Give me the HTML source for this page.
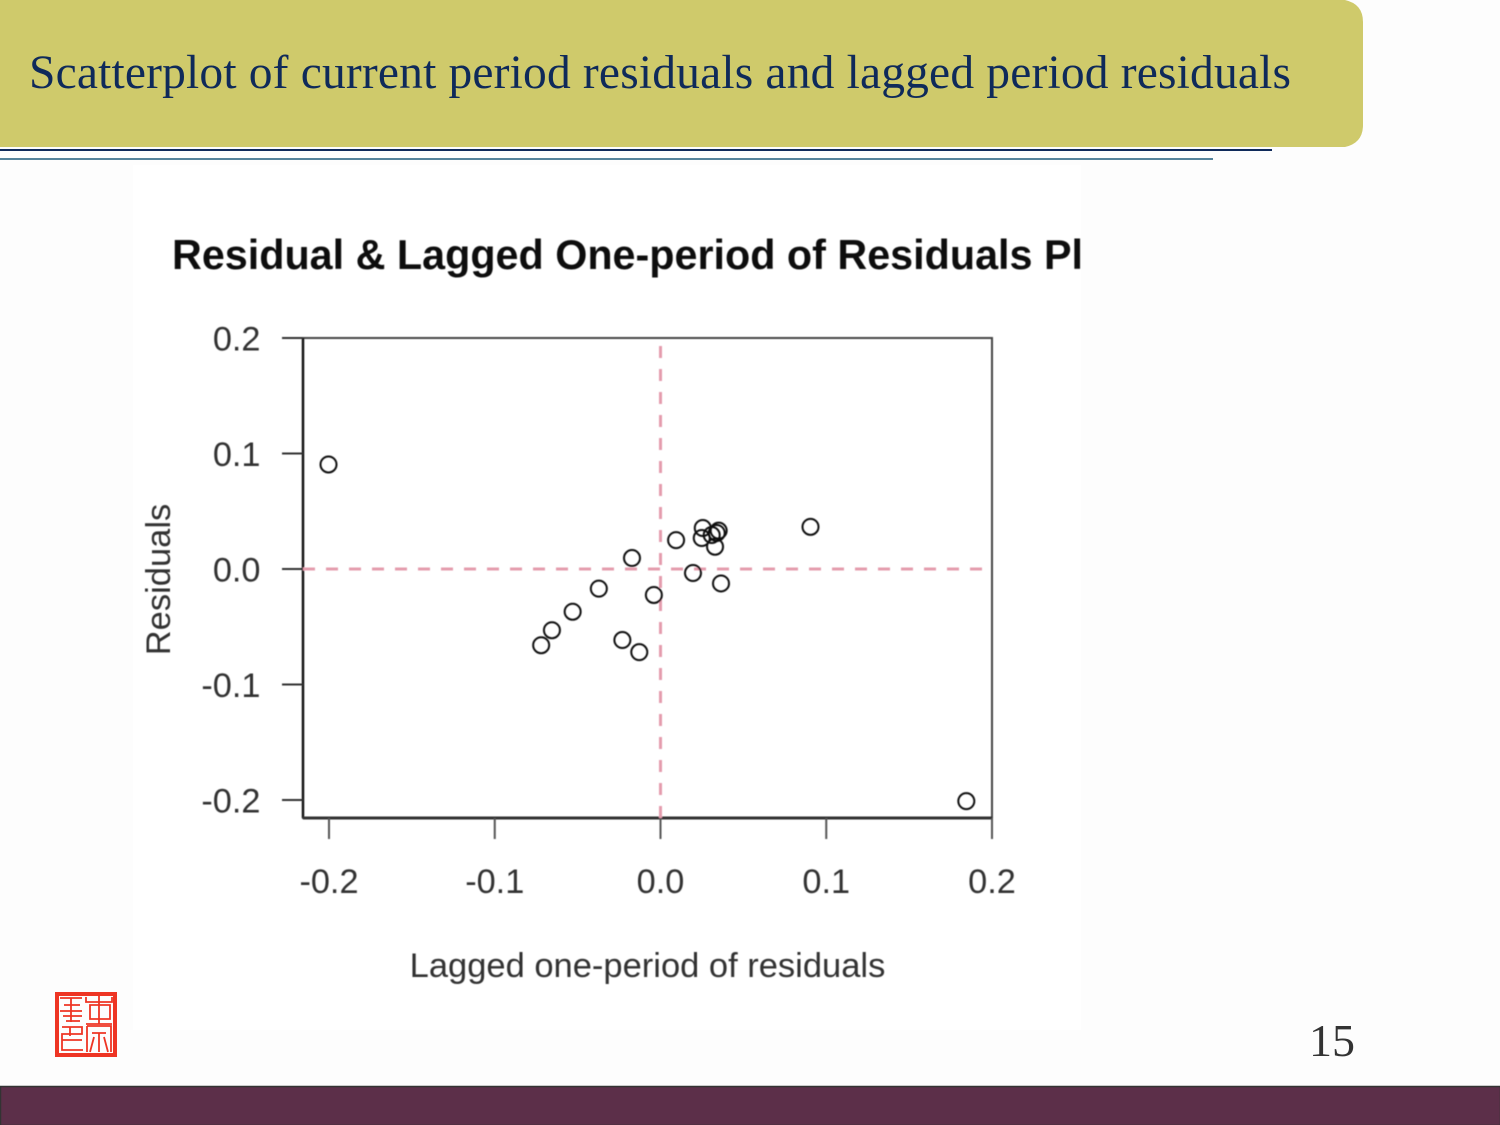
<!DOCTYPE html>
<html lang="en">
<head>
<meta charset="utf-8">
<title>Scatterplot of residuals</title>
<style>
html,body{margin:0;padding:0;background:#fdfdfd;}
#slide{position:relative;width:1500px;height:1125px;overflow:hidden;background:#fdfdfd;}
#slide svg{position:absolute;left:0;top:0;}
</style>
</head>
<body>
<div id="slide">
<svg id="svg" width="1500" height="1125" viewBox="0 0 1500 1125" xmlns="http://www.w3.org/2000/svg">
  <defs>
    <filter id="soft" x="-5%" y="-5%" width="110%" height="110%"><feGaussianBlur stdDeviation="0.6"/></filter>
    <clipPath id="title-clip"><rect x="133" y="200" width="948" height="100"/></clipPath>
  </defs>
  <path d="M0 0H1345Q1363 4 1363 22V125Q1363 143 1345 147H0Z" fill="#cfca6b"/>
  <text x="29" y="88" font-family="'Liberation Serif',serif" font-size="47.5" fill="#0f2a5a" textLength="1262" lengthAdjust="spacing">Scatterplot of current period residuals and lagged period residuals</text>
  <rect x="0" y="149" width="1272" height="2" fill="#0f2a5a"/>
  <rect x="0" y="158" width="1213" height="2" fill="#55839b"/>
  <rect x="133" y="165" width="948" height="865" fill="#ffffff"/>

  <g id="chart" filter="url(#soft)">
    <g clip-path="url(#title-clip)">
      <text x="172" y="269" font-family="'Liberation Sans',sans-serif" font-weight="bold" font-size="41.3" fill="#111">Residual &amp; Lagged One-period of Residuals Plot</text>
    </g>
    <rect x="303" y="338" width="689" height="480" fill="none" stroke="#444" stroke-width="2"/>
    <line x1="303" y1="338" x2="303" y2="818" stroke="#111" stroke-width="2.4"/>
    <line x1="303" y1="818" x2="992" y2="818" stroke="#333" stroke-width="3"/>
    <g id="axes"></g>
    <g id="refs"></g>
    <g id="points"></g>
    <text x="647.5" y="977" text-anchor="middle" font-family="'Liberation Sans',sans-serif" font-size="34.5" fill="#333">Lagged one-period of residuals</text>
    <text transform="translate(170,579.5) rotate(-90)" text-anchor="middle" font-family="'Liberation Sans',sans-serif" font-size="34.5" fill="#333">Residuals</text>
  </g>

  <g fill="none" stroke="#ee3524">
    <rect x="57" y="994" width="58" height="61" stroke-width="4"/>
    <g stroke-width="1.8">
      <path d="M60 998H82M60 1011H82M64 1005H80M71 998V1022M63 1016H82M66 1021H80"/>
      <path d="M86 997V1002H112V997M90 1005H110V1019H90ZM99 995V1024M86 1024H112"/>
      <path d="M62 1027H82V1034H62V1050H83M62 1040H82M70 1027V1036"/>
      <path d="M87 1026H111V1052M87 1026V1052M92 1033H106M99 1033V1052M94 1037L90 1052M104 1037L108 1052"/>
    </g>
  </g>

  <text x="1309" y="1056" font-family="'Liberation Serif',serif" font-size="46" fill="#333">15</text>
  <rect x="0.5" y="1086.5" width="1500" height="39" fill="#5c2f49" stroke="#333" stroke-width="1.5"/>
</svg>
</div>
<script>
const xValues = [-0.2003, 0.1845, 0.0905, 0.0094, -0.0172, 0.0196, 0.0365, -0.004, -0.0372, -0.053, -0.0655, -0.072, -0.023, -0.0128, 0.0255, 0.0351, 0.0329, 0.0249, 0.0309, 0.0339];
const yValues = [0.0905, -0.201, 0.0365, 0.025, 0.0095, -0.0035, -0.0125, -0.0225, -0.017, -0.037, -0.053, -0.066, -0.0615, -0.072, 0.0355, 0.0332, 0.0193, 0.0268, 0.0294, 0.0312];
const xTicks = [-0.2, -0.1, 0, 0.1, 0.2];
const yTicks = [0.2, 0.1, 0, -0.1, -0.2];
const xTickLabels = ['-0.2', '-0.1', '0.0', '0.1', '0.2'];
const yTickLabels = ['0.2', '0.1', '0.0', '-0.1', '-0.2'];
const refX = 0;
const refY = 0;

const NS = 'http://www.w3.org/2000/svg';
function xScale(v) { return 660.5 + v * 1657.5; }
function yScale(v) { return 569 - v * 1155; }
function make(tag, parent, attrs) {
  const el = document.createElementNS(NS, tag);
  Object.keys(attrs).forEach(function (k) { el.setAttribute(k, attrs[k]); });
  parent.appendChild(el);
  return el;
}
const axes = document.getElementById('axes');
const refs = document.getElementById('refs');
const points = document.getElementById('points');
const FONT = "'Liberation Sans',sans-serif";

xTicks.forEach(function (t, i) {
  const tick = make('line', axes, { x1: xScale(t), x2: xScale(t), y1: 818, y2: 839, stroke: '#555', 'stroke-width': 2 });
  
  
  const label = make('text', axes, { x: xScale(t), y: 893, 'text-anchor': 'middle', 'font-family': FONT, 'font-size': 34.3, fill: '#333' });
  label.textContent = xTickLabels[i];
  
  
});
yTicks.forEach(function (t, i) {
  const tick = make('line', axes, { x1: 282, x2: 303, y1: yScale(t), y2: yScale(t), stroke: '#333', 'stroke-width': 2 });
  
  
  const label = make('text', axes, { x: 260.5, y: yScale(t) + 12.6, 'text-anchor': 'end', 'font-family': FONT, 'font-size': 34.3, fill: '#333' });
  label.textContent = yTickLabels[i];
  
  
});

const refH = make('line', refs, { x1: 303, x2: 992, y1: yScale(refY), y2: yScale(refY), stroke: '#e49cad', 'stroke-width': 3, 'stroke-dasharray': '12 11' });


const refV = make('line', refs, { x1: xScale(refX), x2: xScale(refX), y1: 346, y2: 818, stroke: '#e49cad', 'stroke-width': 3, 'stroke-dasharray': '12 11' });



xValues.forEach(function (x, i) {
  const c = make('circle', points, { cx: xScale(x), cy: yScale(yValues[i]), r: 8, fill: 'none', stroke: '#111', 'stroke-width': 2 });
  
  
});
</script>
</body>
</html>
